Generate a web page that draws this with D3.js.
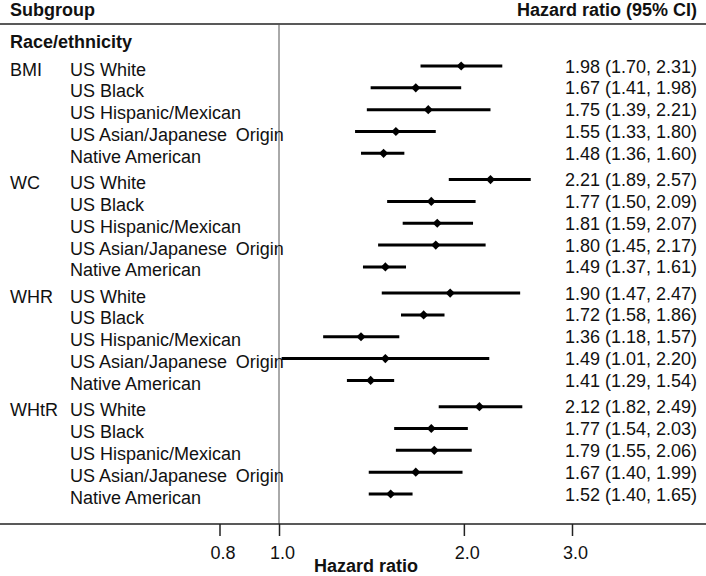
<!DOCTYPE html>
<html>
<head>
<meta charset="utf-8">
<script src="https://cdn.jsdelivr.net/npm/d3@7"></script>
<style>
  html, body { margin: 0; padding: 0; background: #fff; }
  svg { display: block; }
  text { font-family: "Liberation Sans", Arial, sans-serif; fill: #111; }
</style>
</head>
<body>
<svg id="chart" width="706" height="576"></svg>
<script>
// ---- data ----
const groups = ["BMI", "WC", "WHR", "WHtR"];
const subgroups = ["US White", "US Black", "US Hispanic/Mexican", "US Asian/Japanese\u2009 Origin", "Native American"];
const hr = [
  [1.98, 1.67, 1.75, 1.55, 1.48],
  [2.21, 1.77, 1.81, 1.80, 1.49],
  [1.90, 1.72, 1.36, 1.49, 1.41],
  [2.12, 1.77, 1.79, 1.67, 1.52]
];
const lower = [
  [1.70, 1.41, 1.39, 1.33, 1.36],
  [1.89, 1.50, 1.59, 1.45, 1.37],
  [1.47, 1.58, 1.18, 1.01, 1.29],
  [1.82, 1.54, 1.55, 1.40, 1.40]
];
const upper = [
  [2.31, 1.98, 2.21, 1.80, 1.60],
  [2.57, 2.09, 2.07, 2.17, 1.61],
  [2.47, 1.86, 1.57, 2.20, 1.54],
  [2.49, 2.03, 2.06, 1.99, 1.65]
];
const tickValues = [0.8, 1.0, 2.0, 3.0];
const tickLabels = ["0.8", "1.0", "2.0", "3.0"];

const rows = [];
groups.forEach((g, gi) => subgroups.forEach((s, si) => {
  rows.push({ group: g, gi, si, name: s, hr: hr[gi][si], lo: lower[gi][si], hi: upper[gi][si],
    slot: gi * 5.2 + si });
}));

const W = 706, H = 576;
const svg = d3.select("#chart");
const x = d3.scaleLog().domain([0.8, 3]).range([219.5, 572]);
const y = d3.scaleLinear().domain([0, 19.6]).range([66, 494]);
const axisY = 524;

// header
svg.append("text").attr("x", 10).attr("y", 16).attr("font-size", 18).attr("font-weight", "bold").text("Subgroup");
svg.append("text").attr("x", 697).attr("y", 16).attr("font-size", 18).attr("font-weight", "bold")
  .attr("text-anchor", "end").text("Hazard ratio (95% CI)");
svg.append("line").attr("x1", 0).attr("x2", W).attr("y1", 24).attr("y2", 24)
  .attr("stroke", "#222").attr("stroke-width", 1.5);

svg.append("text").attr("x", 10).attr("y", 48).attr("font-size", 18).attr("font-weight", "bold").text("Race/ethnicity");

// reference line at 1
svg.append("line").attr("x1", x(1)).attr("x2", x(1)).attr("y1", 24).attr("y2", axisY)
  .attr("stroke", "#555").attr("stroke-width", 1);

// labels
svg.selectAll("text.grp").data(rows.filter(r => r.si === 0)).join("text")
  .attr("class", "grp").attr("x", 10).attr("y", r => y(r.slot) + 9.5)
  .attr("font-size", 18).text(r => r.group);
svg.selectAll("text.sub").data(rows).join("text")
  .attr("class", "sub").attr("x", 70).attr("y", r => y(r.slot) + 9.5)
  .attr("font-size", 18).text(r => r.name);

// CIs
svg.selectAll("line.ci").data(rows).join("line")
  .attr("class", "ci").attr("x1", r => x(r.lo)).attr("x2", r => x(r.hi))
  .attr("y1", r => y(r.slot)).attr("y2", r => y(r.slot))
  .attr("stroke", "#000").attr("stroke-width", 3);
svg.selectAll("path.pt").data(rows).join("path")
  .attr("class", "pt").attr("d", d3.symbol(d3.symbolSquare, 42)())
  .attr("transform", r => `translate(${x(r.hr)},${y(r.slot)}) rotate(45)`)
  .attr("fill", "#000");

// values
const f = d3.format(".2f");
svg.selectAll("text.val").data(rows).join("text")
  .attr("class", "val").attr("x", 697).attr("y", r => y(r.slot) + 6.5)
  .attr("text-anchor", "end").attr("font-size", 18)
  .text(r => `${f(r.hr)} (${f(r.lo)}, ${f(r.hi)})`);

// axis
const axis = d3.axisBottom(x).tickValues(tickValues).tickSize(12).tickFormat((d, i) => tickLabels[i]);
const ag = svg.append("g").attr("transform", `translate(0,${axisY})`).call(axis);
ag.select(".domain").remove();
ag.selectAll(".tick line").attr("stroke", "#222").attr("stroke-width", 1.5);
ag.selectAll(".tick text").attr("font-size", 18).attr("fill", "#111").attr("dy", null).attr("y", 35).attr("dx", 3)
  .attr("font-family", "Liberation Sans, Arial, sans-serif");
svg.append("line").attr("x1", 0).attr("x2", W).attr("y1", axisY).attr("y2", axisY)
  .attr("stroke", "#222").attr("stroke-width", 1.5);
svg.append("text").attr("x", 366).attr("y", 572).attr("text-anchor", "middle")
  .attr("font-size", 18).attr("font-weight", "bold").text("Hazard ratio");
</script>
</body>
</html>
